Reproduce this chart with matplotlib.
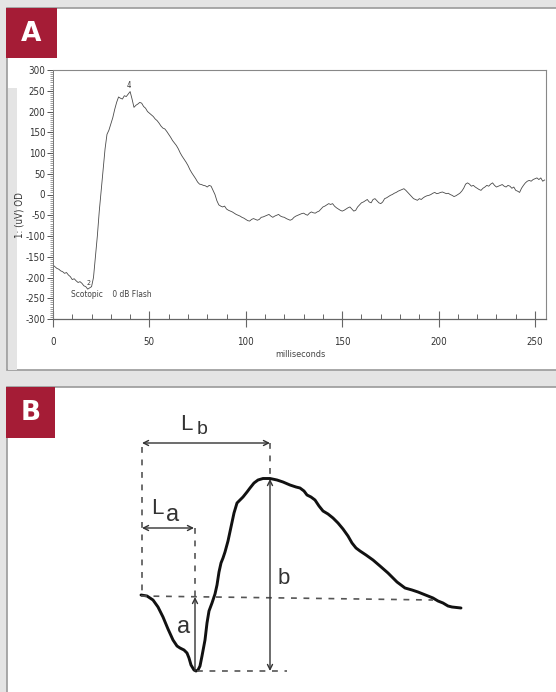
import matplotlib
matplotlib.use("Agg")
import matplotlib.pyplot as plt
from matplotlib.patches import Rectangle

# ---------------- Data: panel A (ERG trace, 1 ms samples) ----------------
erg_ms = list(range(0, 256))
erg_uv = [
    -170, -174, -178, -180, -184, -186, -190, -188, -194, -198,
    -205, -203, -208, -212, -210, -214, -220, -222, -228, -225,
    -222, -200, -150, -100, -40, 10, 60, 110, 145, 155,
    170, 185, 205, 222, 235, 232, 230, 238, 236, 242,
    248, 230, 210, 215, 218, 222, 220, 212, 208, 200,
    196, 192, 188, 182, 178, 172, 165, 160, 158, 152,
    145, 138, 130, 124, 118, 110, 100, 92, 85, 78,
    70, 60, 52, 45, 38, 30, 25, 24, 22, 21,
    18, 22, 20, 10, 0, -15, -25, -28, -30, -28,
    -35, -38, -40, -42, -45, -48, -50, -52, -55, -57,
    -60, -63, -64, -60, -58, -60, -62, -60, -55, -54,
    -52, -50, -48, -52, -55, -52, -50, -48, -52, -54,
    -55, -58, -60, -62, -60, -55, -52, -50, -48, -46,
    -45, -48, -50, -45, -42, -44, -45, -42, -40, -35,
    -30, -28, -25, -22, -24, -22, -28, -32, -35, -38,
    -40, -38, -35, -32, -30, -35, -40, -38, -30, -25,
    -20, -18, -15, -12, -18, -20, -12, -10, -15, -20,
    -22, -18, -10, -8, -5, -2, 0, 3, 5, 8,
    10, 12, 14, 10, 5, 0, -5, -10, -12, -14,
    -10, -12, -8, -5, -3, -2, 0, 3, 5, 2,
    3, 5, 6, 4, 2, 3, 0, -2, -5, -3,
    0, 3, 8, 15, 25, 28, 25, 20, 22, 18,
    15, 12, 10, 15, 18, 22, 20, 25, 28, 22,
    18, 20, 22, 24, 20, 18, 22, 20, 15, 18,
    10, 8, 5, 15, 22, 28, 32, 34, 32, 36,
    38, 40, 36, 40, 32, 35,
]
y_ticks_a = [300, 250, 200, 150, 100, 50, 0, -50, -100, -150, -200, -250, -300]
x_ticks_a = [0, 50, 100, 150, 200, 250]

# ---------------- Data: panel B (schematic waveform) ----------------
wave_t = [0, 6, 12, 17, 22, 27, 32, 36, 39, 43,
          46, 48, 50, 53, 55, 57, 59, 61, 64, 66,
          68, 71, 74, 76, 78, 80, 82, 84, 87, 90,
          93, 96, 99, 102, 106, 109, 113, 117, 122, 129,
          136, 142, 149, 155, 159, 163, 166, 170, 174, 178,
          182, 187, 192, 197, 202, 207, 211, 215, 219, 225,
          232, 239, 247, 251, 256, 260, 264, 271, 277, 282,
          287, 292, 297, 302, 307, 311, 320]
wave_v = [2, 1, -3, -10, -20, -32, -43, -49, -51, -53,
          -56, -61, -68, -73, -74, -73, -69, -59, -43, -26,
          -14, -6, 3, 12, 25, 34, 39, 45, 56, 70,
          84, 94, 97, 100, 105, 109, 114, 117, 118.5, 118.5,
          117, 115, 112, 110, 109, 106, 102, 100, 97, 91,
          86, 83, 79, 74, 68, 61, 54, 49, 46, 42,
          37, 31, 24, 20, 15, 12, 9, 7, 5, 3,
          1, -1, -4, -6, -9, -10, -11]
a_time, a_amp = 54, -74
b_time, b_amp = 129, 118

# ---------------- Figure ----------------
W, H = 556, 692
fig = plt.figure(figsize=(W / 100, H / 100), dpi=100)
fig.patch.set_facecolor("#e4e4e4")

bg = fig.add_axes([0, 0, 1, 1], zorder=0)
bg.set_xlim(0, W)
bg.set_ylim(H, 0)
bg.axis("off")
red = "#a51c36"
edge = "#9a9a9a"
bg.add_patch(Rectangle((7, 8), 560, 362, facecolor="white", edgecolor=edge, lw=1.2))
bg.add_patch(Rectangle((7.6, 88), 9.5, 281.5, facecolor="#e4e4e4", edgecolor="none"))
bg.add_patch(Rectangle((7, 387), 560, 320, facecolor="white", edgecolor=edge, lw=1.2))
bg.add_patch(Rectangle((6, 8), 51, 50, facecolor=red, edgecolor="none"))
bg.add_patch(Rectangle((6, 387), 49, 51, facecolor=red, edgecolor="none"))
bg.text(31.5, 34, "A", color="white", fontsize=19, fontweight="bold", ha="center", va="center")
bg.text(30.5, 413, "B", color="white", fontsize=19, fontweight="bold", ha="center", va="center")

# ---------------- Panel A ----------------
small = dict(family="DejaVu Sans", stretch="condensed")
axa = fig.add_axes([53 / W, 1 - 319 / H, (546 - 53) / W, (319 - 70) / H], zorder=2)
axa.patch.set_alpha(0)
axa.plot(erg_ms, erg_uv, color="#4a4a4a", lw=0.6)
axa.set_xlim(0, 255.7)
axa.set_ylim(-300, 300)
axa.set_yticks(y_ticks_a)
axa.set_yticklabels([str(v) for v in y_ticks_a])
axa.set_yticks(list(range(-300, 301, 5)), minor=True)
axa.set_xticks(x_ticks_a)
axa.set_xticklabels([str(v) for v in x_ticks_a])
axa.set_xticks([v for v in range(10, 256, 10) if v % 50], minor=True)
axa.tick_params(axis="y", which="major", direction="out", length=4, width=0.7, colors="#555",
                labelsize=7, pad=1.5, labelcolor="#333")
axa.tick_params(axis="y", which="minor", direction="out", length=2, width=0.5, colors="#777")
axa.tick_params(axis="x", which="major", direction="inout", length=12, width=0.8, colors="#666",
                labelsize=7, pad=7, labelcolor="#333")
axa.tick_params(axis="x", which="minor", direction="in", length=3.5, width=0.7, colors="#666")
for lab in axa.get_xticklabels() + axa.get_yticklabels():
    lab.set_family("DejaVu Sans")
    lab.set_stretch("condensed")
for s in ["top", "right"]:
    axa.spines[s].set_color("#888")
    axa.spines[s].set_linewidth(0.8)
axa.spines["left"].set_color("#777")
axa.spines["left"].set_linewidth(0.7)
axa.spines["bottom"].set_color("#666")
axa.spines["bottom"].set_linewidth(0.9)

axa.text(18.5, -213, "2", fontsize=5, color="#333", ha="center", va="center", **small)
axa.text(39.5, 263, "4", fontsize=5.5, color="#333", ha="center", va="center", **small)
axa.text(9.5, -240, "Scotopic    0 dB Flash", fontsize=6, color="#444", ha="left", va="center",
         **small)
fig.text(300 / W, 1 - 355 / H, "milliseconds", fontsize=6.5, color="#444", ha="center", va="center",
         **small)
fig.text(20 / W, 1 - 215 / H, "1: (uV) OD", fontsize=7, color="#333", ha="center", va="center",
         rotation=90, **small)

# ---------------- Panel B ----------------
axb = fig.add_axes([0, 0, 1, (H - 387) / H], zorder=3)
axb.patch.set_alpha(0)
axb.set_xlim(-141, W - 141)
axb.set_ylim(-95, 210)
axb.axis("off")
axb.plot(wave_t, wave_v, color="#111", lw=2.1, solid_capstyle="round", solid_joinstyle="round")

dash = dict(color="#555", lw=1.2, linestyle=(0, (3.5, 4)))
axb.plot([0, 292], [1, -3], **dash)                       # baseline
axb.plot([a_time + 2, 146], [a_amp, a_amp], **dash)        # trough level
axb.plot([1, 1], [150, 2], **dash)                         # stimulus onset
axb.plot([a_time, a_time], [69, 0], **dash)                # a-wave latency
axb.plot([b_time, b_time], [154, b_amp + 1], **dash)       # b-wave latency

arr = dict(color="#333", lw=1.0, shrinkA=0, shrinkB=0, mutation_scale=9)
axb.annotate("", xy=(b_time, 154), xytext=(1, 154), arrowprops=dict(arrowstyle="<->", **arr))
axb.annotate("", xy=(a_time - 1, 69), xytext=(1, 69), arrowprops=dict(arrowstyle="<->", **arr))
axb.annotate("", xy=(a_time, 0), xytext=(a_time, a_amp), arrowprops=dict(arrowstyle="->", **arr))
axb.annotate("", xy=(b_time, b_amp), xytext=(b_time, a_amp), arrowprops=dict(arrowstyle="<->", **arr))

lab = dict(color="#333", family=["Liberation Sans", "DejaVu Sans"])
axb.text(39, 173, "L", fontsize=16, ha="left", va="center", **lab)
axb.text(56, 167, "b", fontsize=14, ha="left", va="center", **lab)
axb.text(10, 89, "L", fontsize=16, ha="left", va="center", **lab)
axb.text(25, 82, "a", fontsize=17, ha="left", va="center", **lab)
axb.text(43, -30, "a", fontsize=17, ha="center", va="center", **lab)
axb.text(143, 18, "b", fontsize=16, ha="center", va="center", **lab)

fig.savefig("out.png", dpi=100, facecolor=fig.get_facecolor())
